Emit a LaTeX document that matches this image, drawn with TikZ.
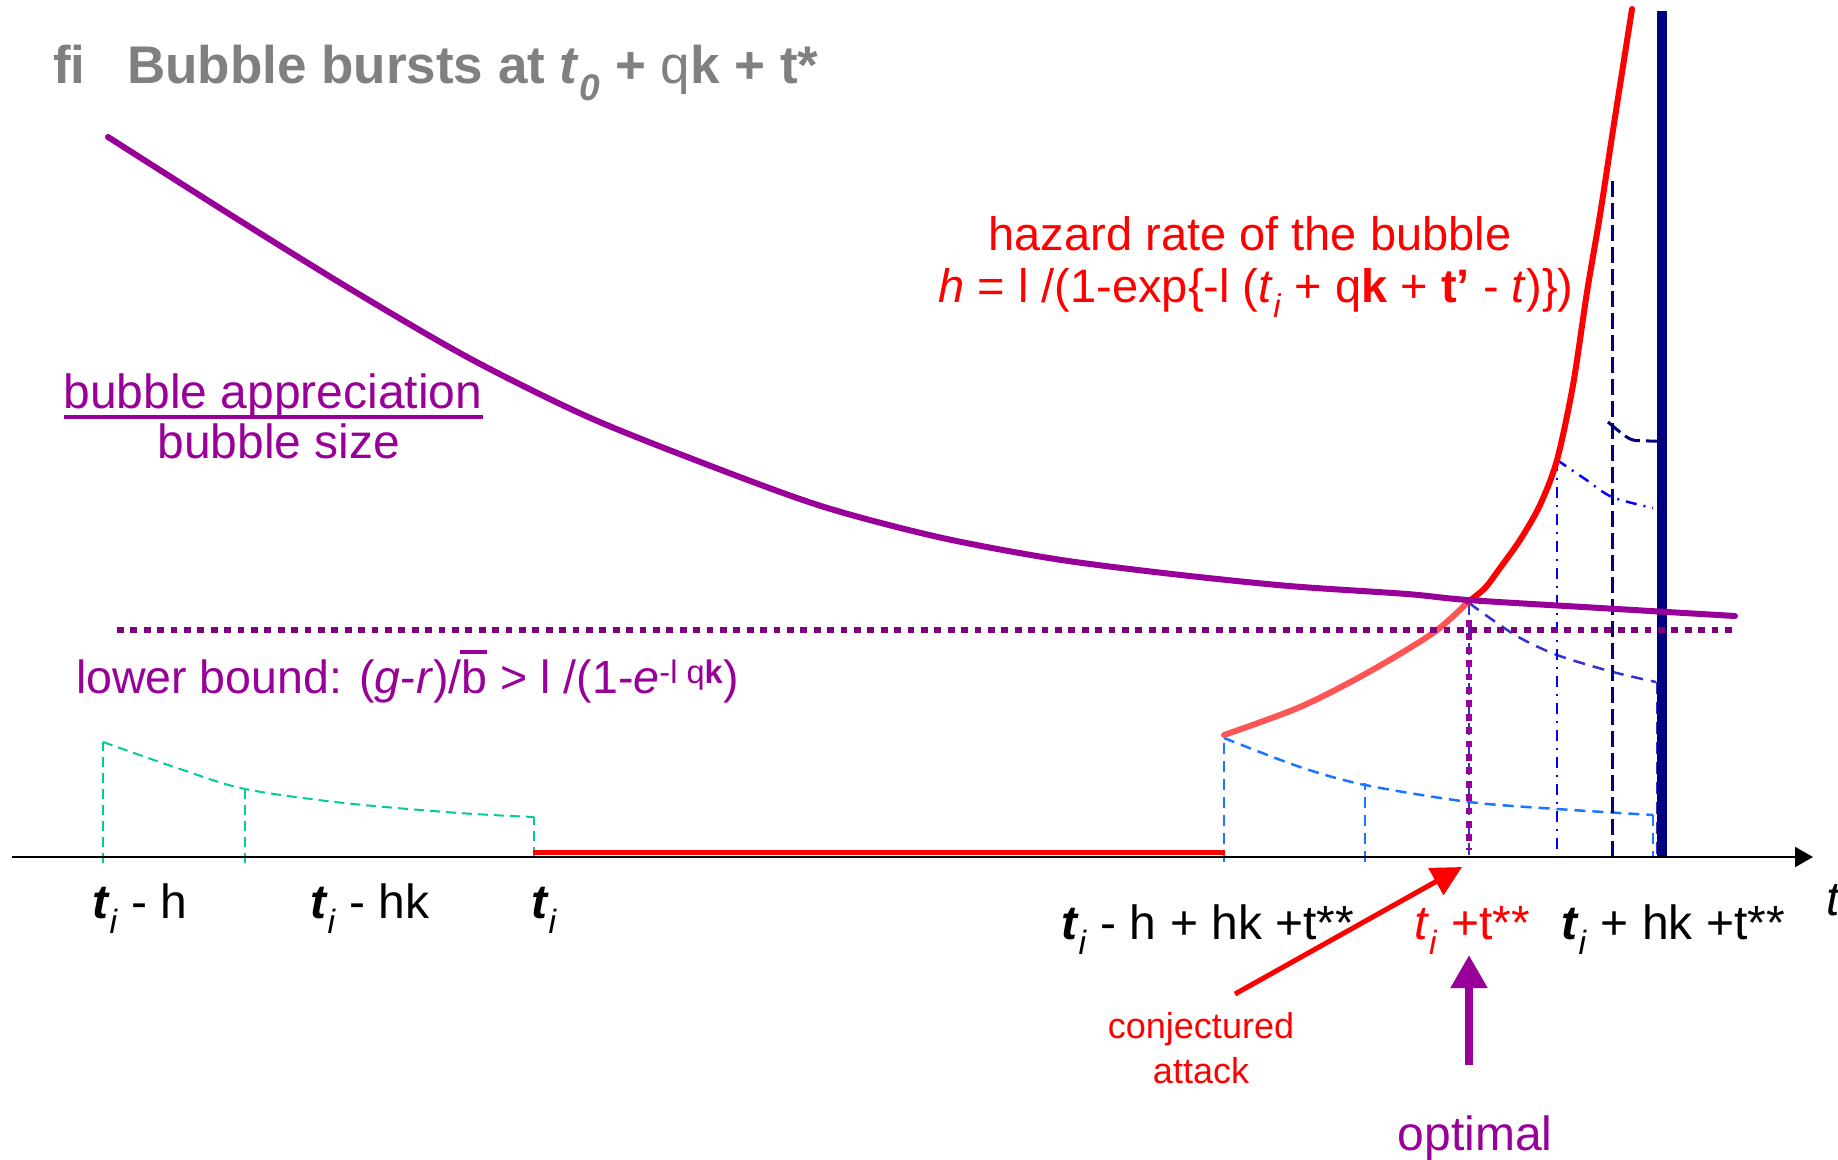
\documentclass[tikz,border=0pt]{standalone}
\usepackage{fontspec}
\setmainfont{Liberation Sans}
\usetikzlibrary{arrows.meta}
\definecolor{bpurple}{HTML}{990099}
\definecolor{dpurple}{HTML}{800080}
\definecolor{hred}{HTML}{FF0000}
\definecolor{lred}{HTML}{FF5555}
\definecolor{navyc}{HTML}{000080}
\definecolor{tealc}{HTML}{00CC99}
\definecolor{fanA}{HTML}{1A75FF}
\definecolor{fanB}{HTML}{3333CC}
\definecolor{fanC}{HTML}{0000FF}
\definecolor{fanD}{HTML}{000080}
\definecolor{titlegray}{HTML}{808080}
\newcommand\tsubi{\textbf{\textit{t}}\textsubscript{\textit{i}}}
\begin{document}
\begin{tikzpicture}[x=1pt,y=-1pt,
  every node/.style={inner sep=0pt,outer sep=0pt},
  lbl/.style={anchor=base west,font=\fontsize{48}{52}\selectfont},
  clbl/.style={anchor=base,font=\fontsize{48}{52}\selectfont},
  titlestyle/.style={anchor=base west,text=titlegray,font=\fontsize{53}{60}\selectfont\bfseries},
  tealdash/.style={tealc,line width=2pt,dash pattern=on 10pt off 6pt},
  fanAdash/.style={fanA,line width=2.5pt,dash pattern=on 11pt off 7pt},
  fanBdash/.style={fanB,line width=2.5pt,dash pattern=on 12pt off 8pt},
  fanCdash/.style={fanC,line width=2.5pt,dash pattern=on 11pt off 7pt on 2pt off 7pt},
  fanDdash/.style={fanD,line width=3pt,dash pattern=on 16pt off 6pt},
  thickcurve/.style={line width=6pt,line cap=round}
]
\useasboundingbox (0,0) rectangle (1838,1159);
\fill[white] (0,0) rectangle (1838,1159);

% title
\node[titlestyle] (fi) at (53,83) {fi};
\node[titlestyle] (title) at (127,83) {Bubble bursts at \textit{t}\textsubscript{\textit{0}} + {\mdseries q}k + t*};

% teal fan
\draw[tealdash] (103,863) -- (103,742);
\draw[tealdash] (245,863) -- (245,787);
\draw[tealdash] (534,857) -- (534,817);
\draw[tealdash] plot[smooth] coordinates {(103,742) (180,769) (245,789) (344,803) (459,813) (534,817)};

% fan A (light blue)
\draw[fanAdash] (1224,862) -- (1224,740);
\draw[fanAdash] (1365,862) -- (1365,783);
\draw[fanAdash] plot[smooth] coordinates {(1224,738) (1300,767) (1365,785) (1469,802) (1557,809) (1653,815)};
\draw[fanAdash] (1653,815) -- (1653,857);

% fan B
\draw[fanBdash] (1469,603) -- (1469,857);
\draw[fanBdash] plot[smooth] coordinates {(1469,603) (1515,635) (1557,655) (1613,672) (1656,682)};
\draw[fanBdash] (1657,682) -- (1657,857);

% fan C (dash-dot)
\draw[fanCdash] (1557,460) -- (1557,860);
\draw[fanCdash] plot[smooth] coordinates {(1557,460) (1585,479) (1612,497) (1653,508)};

% fan D (navy dashed)
\draw[fanDdash] (1612,181) -- (1612,857);
\draw[fanDdash] plot[smooth] coordinates {(1608,422) (1620,432) (1633,440) (1657,441)};

% red hazard curve
\draw[hred,line width=5pt] (533,852) -- (1225,852);
\draw[lred,thickcurve] plot[smooth] coordinates {(1224,735) (1300,707) (1367,673) (1433,633) (1468,602)};
\draw[hred,thickcurve] plot[smooth] coordinates {(1468,602) (1485,588) (1500,568) (1520,540) (1540,505) (1557,460) (1573,385) (1587,292) (1600,215) (1613,130) (1632,9)};

% navy vertical
\draw[navyc,line width=10pt] (1662,11) -- (1662,857);

% purple bubble-size curve
\draw[bpurple,thickcurve] plot[smooth] coordinates {(108,137) (234,217) (352,290) (469,358) (586,416) (703,463) (821,506) (938,537) (1055,559) (1172,574) (1289,586) (1407,594) (1468,600) (1600,608) (1735,616)};

% dotted lower bound
\draw[dpurple,line width=6pt,dash pattern=on 6.7pt off 6.7pt] (117,630) -- (1733,630);
\draw[bpurple,line width=6pt,dash pattern=on 6.7pt off 6.7pt] (1469,620) -- (1469,850);

% axis
\draw[black,line width=2pt,-{Triangle[length=18pt,width=20pt]}] (12,857) -- (1813,857);

% texts
\node[clbl,text=hred,font=\fontsize{47}{52}\selectfont] (hz1) at (1250,250) {hazard rate of the bubble};
\node[clbl,text=hred,font=\fontsize{47}{52}\selectfont] (hz2) at (1256,302) {\textit{h} = l /(1-exp\{-l (\textit{t}\textsubscript{\textit{i}} + q\textbf{k} + \textbf{t’} - \textit{t})\})};

\node[clbl,text=bpurple] (app) at (273,408) {bubble appreciation};
\draw[bpurple,line width=4pt] ([yshift=-9pt]app.base west) -- ([yshift=-9pt]app.base east);
\node[clbl,text=bpurple] (bsize) at (279,458) {bubble size};

\node[lbl,text=bpurple,font=\fontsize{46.5}{52}\selectfont] (lb) at (76,693) {lower bound: (\textit{g}-\textit{r})/\makebox[0pt][l]{\hspace{-2pt}\rule[39pt]{27pt}{4pt}}b > l /(1-\textit{e}\textsuperscript{-l q\textbf{k}})};

\node[lbl] (l1) at (92,918) {\tsubi{} - h};
\node[lbl] (l2) at (310,918) {\tsubi{} - hk};
\node[lbl] (l3) at (531,918) {\tsubi};
\node[lbl] (l4) at (1061,939) {\tsubi{} - h + hk +t**};
\node[lbl,text=hred] (l5) at (1414,939) {\textit{t}\textsubscript{\textit{i}} +t**};
\node[lbl] (l6) at (1561,939) {\tsubi{} + hk +t**};
\node[lbl] (taxis) at (1826,915) {\textit{t}};

\node[anchor=base,text=hred,font=\fontsize{36}{40}\selectfont] (conj) at (1201,1038) {conjectured};
\node[anchor=base,text=hred,font=\fontsize{36}{40}\selectfont] (attack) at (1201,1083) {attack};
\node[clbl,text=bpurple] (opt) at (1475,1150) {optimal};

% arrows
\coordinate (castart) at (1235,994);
\coordinate (caend) at (1462,867);
\draw[hred,line width=5pt,-{Triangle[length=30pt,width=30pt]}] (castart) -- (caend);
\coordinate (optstart) at (1469,1065);
\coordinate (optend) at (1469,955);
\draw[bpurple,line width=8pt,-{Triangle[length=33pt,width=35pt]}] (optstart) -- (optend);
\end{tikzpicture}
\end{document}
